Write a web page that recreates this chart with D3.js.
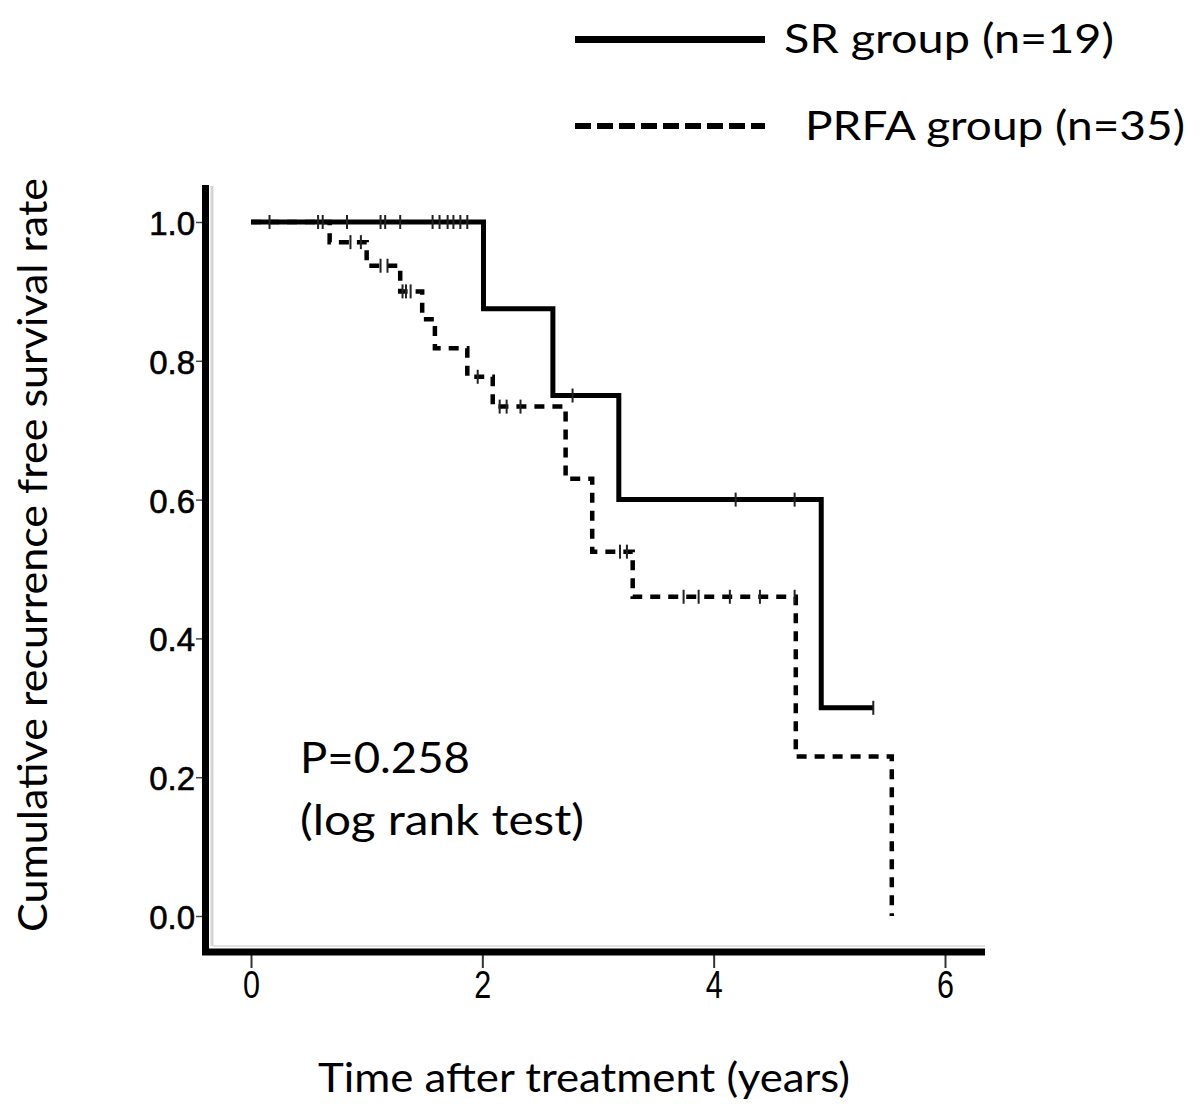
<!DOCTYPE html>
<html><head><meta charset="utf-8">
<script src="https://cdn.jsdelivr.net/npm/d3@7"></script>
<style>body{margin:0;background:#fff}</style>
</head><body>
<svg id="chart" width="1200" height="1115" xmlns="http://www.w3.org/2000/svg"></svg>
<script>
// ---- data ----
const xTickValues = [0, 2, 4, 6];
const yTickValues = [0, 0.2, 0.4, 0.6, 0.8, 1.0];
const seriesNames = ["SR group (n=19)", "PRFA group (n=35)"];

const srTimes = [0, 2.01, 2.61, 3.18, 4.93, 5.38];
const srSurv  = [1.0, 0.875, 0.75, 0.60, 0.30, 0.30];
const srCensor = [0.16, 0.83, 1.12, 1.16, 1.29, 1.57, 1.63, 1.70, 1.75, 1.81, 1.87, 2.78, 4.19, 4.70, 5.38];

const prfaTimes = [0, 0.68, 1.00, 1.29, 1.48, 1.59, 1.87, 2.09, 2.72, 2.95, 3.30, 4.71, 5.54];
const prfaSurv  = [1.0, 0.971, 0.937, 0.900, 0.860, 0.818, 0.777, 0.734, 0.630, 0.525, 0.460, 0.230, 0.0];
const prfaCensor = [0.58, 0.62, 0.86, 0.95, 1.12, 1.18, 1.31, 1.34, 1.38, 1.96, 2.15, 2.21, 2.33, 3.19, 3.25, 3.74, 3.87, 4.14, 4.40, 4.70];

const xLabel = "Time after treatment (years)";
const yLabel = "Cumulative recurrence free survival rate";
const pText = ["P=0.258", "(log rank test)"];

// ---- drawing ----
const svg = d3.select("#chart");
const x = d3.scaleLinear().domain([0, 6]).range([251, 945]);
const y = d3.scaleLinear().domain([0, 1]).range([916, 222]);
const humanist = "Lato, 'Open Sans', sans-serif";

function survAt(times, surv, t) {
  let s = surv[0];
  for (let i = 0; i < times.length; i++) if (times[i] <= t) s = surv[i];
  return s;
}

// faint shadow lines
svg.append("line").attr("x1", 212).attr("x2", 212).attr("y1", 186).attr("y2", 946)
  .attr("stroke", "#d4d4d4").attr("stroke-width", 3);
svg.append("line").attr("x1", 212).attr("x2", 985).attr("y1", 946).attr("y2", 946)
  .attr("stroke", "#e2e2e2").attr("stroke-width", 2);

// y axis
const yAxis = svg.append("g").attr("transform", "translate(204,0)")
  .call(d3.axisLeft(y).tickValues(yTickValues).tickFormat(d3.format(".1f")).tickSize(8).tickPadding(1));
yAxis.select(".domain").remove();
yAxis.selectAll(".tick line").attr("stroke", "#444").attr("stroke-width", 1.5);
yAxis.selectAll(".tick text").attr("font-family", "'Liberation Sans', Arial, sans-serif")
  .attr("font-size", 33).attr("fill", "#000").attr("dy", "0.38em")
  .attr("stroke", "#000").attr("stroke-width", 0.6);

// x axis
const xAxis = svg.append("g").attr("transform", "translate(0,955)")
  .call(d3.axisBottom(x).tickValues(xTickValues).tickFormat(d3.format("d")).tickSize(13).tickPadding(3));
xAxis.select(".domain").remove();
xAxis.selectAll(".tick line").attr("stroke", "#333").attr("stroke-width", 2);
xAxis.selectAll(".tick text").attr("font-family", "'Liberation Sans', sans-serif")
  .attr("font-size", 38).attr("fill", "#000")
  .attr("textLength", 17).attr("lengthAdjust", "spacingAndGlyphs");

// thick axis lines
svg.append("line").attr("x1", 205.5).attr("x2", 205.5).attr("y1", 185).attr("y2", 955)
  .attr("stroke", "#000").attr("stroke-width", 7);
svg.append("line").attr("x1", 202).attr("x2", 985).attr("y1", 952).attr("y2", 952)
  .attr("stroke", "#000").attr("stroke-width", 7);

// curves
const line = d3.line().x(d => x(d[0])).y(d => y(d[1])).curve(d3.curveStepAfter);
const srPts = srTimes.map((t, i) => [t, srSurv[i]]);
const prfaPts = prfaTimes.map((t, i) => [t, prfaSurv[i]]);

svg.append("path").attr("d", line(prfaPts)).attr("fill", "none").attr("stroke", "#000")
  .attr("stroke-width", 4.5).attr("stroke-dasharray", "10,8");
svg.append("path").attr("d", line(srPts)).attr("fill", "none").attr("stroke", "#000")
  .attr("stroke-width", 5);

// censor marks
function censor(times, surv, cens) {
  svg.append("g").selectAll("line").data(cens).join("line")
    .attr("x1", d => x(d)).attr("x2", d => x(d))
    .attr("y1", d => y(survAt(times, surv, d)) - 7)
    .attr("y2", d => y(survAt(times, surv, d)) + 7)
    .attr("stroke", "#222").attr("stroke-width", 2);
}
censor(srTimes, srSurv, srCensor);
censor(prfaTimes, prfaSurv, prfaCensor);

// legend
svg.append("line").attr("x1", 575).attr("x2", 765).attr("y1", 39.5).attr("y2", 39.5)
  .attr("stroke", "#000").attr("stroke-width", 7);
svg.append("line").attr("x1", 575).attr("x2", 765).attr("y1", 126).attr("y2", 126)
  .attr("stroke", "#000").attr("stroke-width", 6).attr("stroke-dasharray", "16,6");
svg.append("text").attr("x", 784).attr("y", 53).text(seriesNames[0])
  .attr("font-family", humanist).attr("font-size", 40).attr("fill", "#000")
  .attr("textLength", 330).attr("lengthAdjust", "spacingAndGlyphs");
svg.append("text").attr("x", 805).attr("y", 140).text(seriesNames[1])
  .attr("font-family", humanist).attr("font-size", 40).attr("fill", "#000")
  .attr("textLength", 380).attr("lengthAdjust", "spacingAndGlyphs");

// p-value text
svg.append("text").attr("x", 300).attr("y", 773).text(pText[0])
  .attr("font-family", humanist).attr("font-size", 43).attr("fill", "#000")
  .attr("textLength", 170).attr("lengthAdjust", "spacingAndGlyphs");
svg.append("text").attr("x", 300).attr("y", 835).text(pText[1])
  .attr("font-family", humanist).attr("font-size", 43).attr("fill", "#000")
  .attr("textLength", 284).attr("lengthAdjust", "spacingAndGlyphs");

// axis titles
svg.append("text").attr("x", 584).attr("y", 1092).attr("text-anchor", "middle").text(xLabel)
  .attr("font-family", humanist).attr("font-size", 40).attr("fill", "#000")
  .attr("textLength", 532).attr("lengthAdjust", "spacingAndGlyphs");
svg.append("text").attr("transform", "translate(47,555) rotate(-90)").attr("text-anchor", "middle").text(yLabel)
  .attr("font-family", humanist).attr("font-size", 40).attr("fill", "#000")
  .attr("textLength", 754).attr("lengthAdjust", "spacingAndGlyphs");
</script>
</body></html>
